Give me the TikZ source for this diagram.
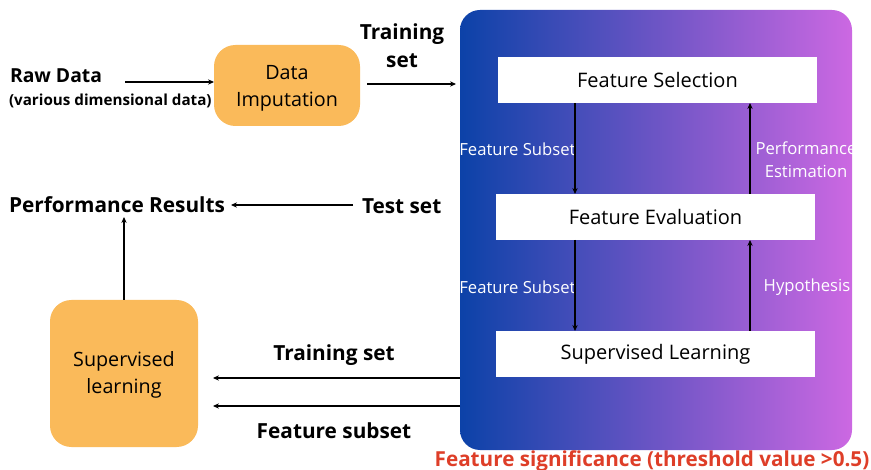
\documentclass[tikz,border=0pt]{standalone}
\usepackage{fontspec}
\setmainfont{Open Sans}
\usetikzlibrary{arrows.meta}
\definecolor{boxorange}{RGB}{250,186,90}
\definecolor{gradleft}{RGB}{12,66,168}
\definecolor{gradright}{RGB}{204,104,226}
\definecolor{noteRed}{RGB}{222,62,40}
\tikzset{
  every node/.style={inner sep=0pt, outer sep=0pt},
  orangebox/.style={fill=boxorange, rounded corners=16pt, align=center, font=\fontsize{14.8}{20.5}\selectfont},
  whitebox/.style={fill=white, minimum width=239.25pt, minimum height=34.5pt, font=\fontsize{15}{18}\selectfont},
  boldlbl/.style={font=\bfseries\fontsize{15.6}{21}\selectfont, align=center},
  innerlbl/.style={text=white, font=\fontsize{12.5}{17.5}\selectfont, align=center},
  conn/.style={line width=1.1pt, -{Stealth[length=4.5pt,width=4pt]}},
}
\begin{document}
\begin{tikzpicture}[x=0.75pt,y=-0.75pt]
\useasboundingbox (0,0) rectangle (871,470);
% gradient panel
\shade[left color=gradleft, right color=gradright, rounded corners=15pt]
  (460,10) rectangle (852,450);
\begin{scope}
\clip[rounded corners=15pt] (460,10) rectangle (852,450);
\node[innerlbl] (lblPE) at (806,159.5) {Performance\\Estimation};
\node[innerlbl] (lblHy) at (807,287) {Hypothesis};
\end{scope}
\node[innerlbl] (lblFS1) at (517.5,149) {Feature Subset};
\node[innerlbl] (lblFS2) at (517.5,287) {Feature Subset};

% inner pipeline
\node[whitebox] (fsel) at (657.5,80) {Feature Selection};
\node[whitebox] (feval) at (655.5,217) {Feature Evaluation};
\node[whitebox] (slearn) at (655.5,354) {Supervised Learning};

\draw[conn] (fsel.south -| 575,0) -- (feval.north -| 575,0);
\draw[conn] (feval.north -| 750,0) -- (fsel.south -| 750,0);
\draw[conn] (feval.south -| 575,0) -- (slearn.north -| 575,0);
\draw[conn] (slearn.north -| 750,0) -- (feval.south -| 750,0);

% left side
\node[font=\bfseries\fontsize{14.5}{18}\selectfont, anchor=west] (raw) at (10,76) {Raw Data};
\node[anchor=west, font=\bfseries\fontsize{11.4}{13}\selectfont] (rawsub) at (9,101) {(various dimensional data)};
\node[orangebox, minimum width=109.5pt, minimum height=60.75pt] (dimp) at (287,85.5) {};
\node[align=center, font=\fontsize{14.8}{20.5}\selectfont] (dimpText) at (287,88) {Data\\Imputation};
\coordinate (rawend) at (125,82);
\draw[conn] (rawend) -- (rawend -| dimp.west);

\node[boldlbl] (trainTop) at (402,46) {Training\\set};
\coordinate (tsStart) at (367,84);
\coordinate (tsEnd) at (456,84);
\draw[conn] (tsStart) -- (tsEnd);

\node[boldlbl, anchor=west] (perf) at (9,205) {Performance Results};
\node[boldlbl, anchor=west] (test) at (362,206) {Test set};
\coordinate (testEnd) at (231,205);
\draw[conn] (test.west |- testEnd) ++(-9,0) -- (testEnd);

\node[orangebox, minimum width=111pt, minimum height=110.25pt] (sup) at (124,373.5) {};
\node[align=center, font=\fontsize{14.8}{20.5}\selectfont] (supText) at (124,375) {Supervised\\learning};
\draw[conn] (sup.north) -- (124,217);

\coordinate (trA) at (460,378);
\coordinate (trB) at (213,378);
\coordinate (fsA) at (460,406);
\coordinate (fsB) at (213,406);
\draw[conn] (trA) -- (trB);
\draw[conn] (fsA) -- (fsB);
\node[boldlbl] (trainBot) at (334,355) {Training set};
\node[boldlbl] (featBot) at (334,431) {Feature subset};

\node[font=\bfseries\fontsize{15.5}{18}\selectfont, text=noteRed] (note) at (652,461) {Feature significance (threshold value >0.5)};
\end{tikzpicture}
\end{document}
